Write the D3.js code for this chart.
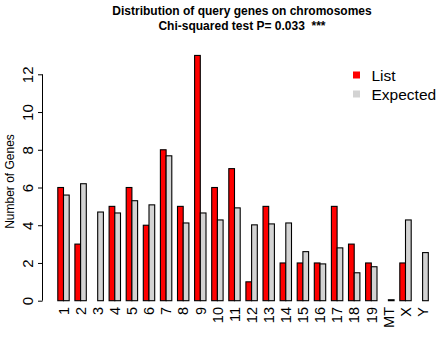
<!DOCTYPE html>
<html>
<head>
<meta charset="utf-8">
<script src="https://cdn.jsdelivr.net/npm/d3@7"></script>
<style>
  html, body { margin: 0; padding: 0; background: #fff; }
  svg { display: block; font-family: "Liberation Sans", Arial, sans-serif; }
</style>
</head>
<body>
<svg id="chart" width="444" height="338"></svg>
<script>
const chromosomes = ["1","2","3","4","5","6","7","8","9","10","11","12","13","14","15","16","17","18","19","MT","X","Y"];
const listCounts = [6,3,0,5,6,4,8,5,13,6,7,1,5,2,2,2,5,3,2,0,2,0];
const expectedCounts = [5.6,6.2,4.7,4.65,5.3,5.08,7.68,4.12,4.65,4.28,4.92,4.02,4.07,4.12,2.6,1.95,2.8,1.48,1.8,0.05,4.28,2.55];
const yTicks = [0,2,4,6,8,10,12];
const seriesNames = ["List","Expected"];
const seriesColors = ["#FF0000","#D3D3D3"];
const titleLines = ["Distribution of query genes on chromosomes","Chi-squared test P= 0.033  ***"];
const yLabel = "Number of Genes";

const svg = d3.select("#chart");

// bar layout in R barplot units: each group = space 1 + two bars of width 1
const x = d3.scaleLinear().domain([0, 66]).range([52.1, 428.3]);
const y = d3.scaleLinear().domain([0, 12]).range([300.7, 74.3]);

const groups = svg.append("g").selectAll("g")
  .data(chromosomes.map((c, i) => ({c, i, vals: [listCounts[i], expectedCounts[i]]})))
  .join("g");

groups.selectAll("rect")
  .data(d => d.vals.map((v, k) => ({v, k, i: d.i})))
  .join("rect")
  .attr("x", d => x(3 * d.i + 1 + d.k))
  .attr("width", d => x(3 * d.i + 2 + d.k) - x(3 * d.i + 1 + d.k))
  .attr("y", d => y(d.v))
  .attr("height", d => y(0) - y(d.v))
  .attr("fill", d => seriesColors[d.k])
  .attr("stroke", "#000")
  .attr("stroke-width", 1.1);

// x labels
svg.append("g").selectAll("text")
  .data(chromosomes)
  .join("text")
  .attr("transform", (d, i) => `translate(${x(3 * i + 2) + 5.2},307) rotate(-90)`)
  .attr("text-anchor", "end")
  .style("font-size", "14.5px")
  .text(d => d);

// y axis
const yAxis = d3.axisLeft(y).tickValues(yTicks).tickSize(4.5).tickFormat(d3.format("d"));
const ya = svg.append("g").attr("transform", "translate(42.5,0)").call(yAxis);
ya.select(".domain").attr("stroke", "#000").attr("stroke-width", 1)
  .attr("d", `M0,${y(0)}V${y(12)}`);
ya.selectAll(".tick line").attr("stroke", "#000");
ya.selectAll(".tick text")
  .attr("x", null).attr("dy", null)
  .attr("transform", "translate(-9.5,0) rotate(-90)")
  .attr("text-anchor", "middle")
  .style("font-size", "15px")
  .style("font-family", "'Liberation Sans', Arial, sans-serif")
  .attr("fill", "#000");

// y label
svg.append("text")
  .attr("transform", `translate(14,${(y(0) + y(12)) / 2 - 6}) rotate(-90)`)
  .attr("text-anchor", "middle")
  .style("font-size", "12px")
  .text(yLabel);

// title
svg.append("g").selectAll("text")
  .data(titleLines)
  .join("text")
  .attr("x", 242)
  .attr("y", (d, i) => 15 + i * 14.5)
  .attr("text-anchor", "middle")
  .style("font-size", "12px")
  .style("font-weight", "bold")
  .style("white-space", "pre")
  .text(d => d);

// legend
const leg = svg.append("g").selectAll("g")
  .data(seriesNames)
  .join("g")
  .attr("transform", (d, i) => `translate(353,${75 + i * 19})`);
leg.append("rect")
  .attr("x", 0).attr("y", -3.5).attr("width", 7).attr("height", 7)
  .attr("fill", (d, i) => seriesColors[i]);
leg.append("text")
  .attr("x", 18.5).attr("y", 5.5)
  .style("font-size", "15.5px")
  .text(d => d);
</script>
</body>
</html>
